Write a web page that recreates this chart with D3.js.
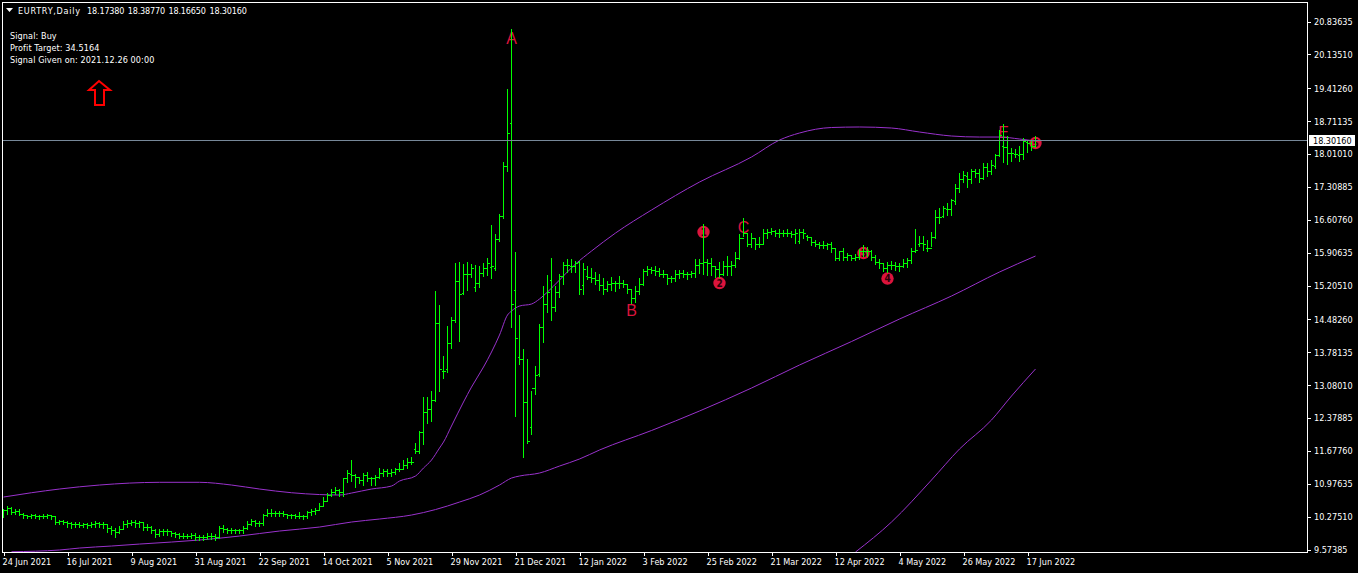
<!DOCTYPE html>
<html><head><meta charset="utf-8">
<script src="https://cdn.jsdelivr.net/npm/d3@7"></script>
<style>
html,body{margin:0;padding:0;background:#000;overflow:hidden}
svg{display:block}
text{font-family:"DejaVu Sans Condensed","DejaVu Sans",sans-serif;font-stretch:condensed;font-size:9px;fill:#fff}
</style></head><body>
<svg id="c" width="1358" height="573"></svg>
<script>
const symbolTitle="EURTRY,Daily";
const quoteValues=["18.17380","18.38770","18.16650","18.30160"];
const infoLines=["Signal: Buy","Profit Target: 34.5164","Signal Given on: 2021.12.26 00:00"];
const currentPrice=18.3016;
const priceTicks=[20.83635,20.1351,19.4126,18.71135,18.0101,17.30885,16.6076,15.90635,15.2051,14.4826,13.78135,13.0801,12.37885,11.6776,10.97635,10.2751,9.57385];
const dateLabels=["24 Jun 2021","16 Jul 2021","9 Aug 2021","31 Aug 2021","22 Sep 2021","14 Oct 2021","5 Nov 2021","29 Nov 2021","21 Dec 2021","12 Jan 2022","3 Feb 2022","25 Feb 2022","21 Mar 2022","12 Apr 2022","4 May 2022","26 May 2022","17 Jun 2022"];
const dateLabelBars=[0,16,32,48,64,80,96,112,128,144,160,176,192,208,224,240,256];

const highs=[
10.43,10.50,10.48,10.42,10.43,10.35,10.30,10.33,10.32,10.29,10.32,10.32,10.30,10.28,10.20,10.19,10.17,10.15,10.15,10.15,10.13,10.12,10.15,10.17,10.16,10.16,
10.08,10.06,10.03,10.06,10.18,10.19,10.20,10.19,10.18,10.16,10.11,10.06,10.00,9.99,10.01,10.00,9.96,9.94,9.91,9.91,9.89,9.91,9.92,9.88,9.88,9.91,9.91,9.89,
10.06,10.08,10.03,10.03,10.01,10.01,10.06,10.17,10.22,10.19,10.18,10.33,10.42,10.42,10.39,10.39,10.38,10.33,10.32,10.32,10.36,10.30,10.39,10.42,10.45,10.55,
10.68,10.76,10.86,10.90,10.85,11.09,11.26,
11.47,11.17,11.10,11.19,11.22,11.10,11.15,11.30,11.29,11.29,11.29,11.31,11.41,11.47,11.51,11.53,11.83,
12.10,12.82,12.81,12.94,15.08,14.78,13.69,14.33,14.52,15.68,15.69,15.65,15.69,15.65,15.63,15.61,15.67,15.78,16.48,16.29,16.73,17.82,19.39,20.66,
15.90,14.57,13.83,13.62,12.95,13.48,14.37,15.18,15.42,15.79,15.18,15.44,15.70,15.75,15.75,15.72,15.72,15.68,15.61,
15.56,15.49,15.44,15.35,15.30,15.38,15.30,15.40,15.31,15.23,15.13,15.18,15.35,15.54,15.60,15.58,15.60,15.56,15.52,15.44,15.40,15.52,15.52,15.52,15.49,15.51,15.77,15.75,16.50,15.77,15.79,15.61,15.70,15.72,15.82,15.72,15.91,16.29,16.63,16.32,16.32,16.20,16.22,16.41,16.39,16.43,16.38,16.39,16.38,16.39,16.36,16.41,16.39,
16.39,16.27,16.23,16.16,16.13,16.15,16.11,16.13,15.99,15.94,15.99,15.89,15.84,15.86,15.97,16.06,16.01,15.95,15.84,15.77,15.67,15.70,15.72,15.70,15.68,15.77,15.79,15.99,16.39,16.25,16.25,16.16,16.34,
16.81,16.84,16.89,16.95,17.03,17.36,17.59,17.64,17.62,17.67,17.67,17.69,17.80,17.80,17.87,18.01,18.51,18.64,18.38,18.12,18.10,18.17,18.35,18.28,18.28,18.3877];
const lows=[
10.28,10.35,10.35,10.35,10.32,10.26,10.25,10.25,10.25,10.23,10.25,10.25,10.23,10.13,10.13,10.12,10.06,10.05,10.06,10.06,10.06,10.05,10.06,10.06,10.06,10.05,
9.96,9.91,9.86,9.94,10.03,10.06,10.11,10.06,10.06,10.01,10.00,9.94,9.85,9.87,9.89,9.89,9.88,9.85,9.82,9.82,9.82,9.82,9.78,9.78,9.79,9.81,9.81,9.79,
9.82,9.96,9.94,9.94,9.94,9.94,9.94,10.03,10.11,10.09,10.09,10.11,10.29,10.30,10.30,10.30,10.29,10.25,10.25,10.25,10.25,10.23,10.25,10.33,10.35,10.42,
10.53,10.63,10.73,10.76,10.73,10.73,11.03,
11.04,10.92,11.01,10.97,11.04,10.97,10.97,11.12,11.15,11.15,11.15,11.20,11.26,11.31,11.33,11.40,11.65,
11.65,11.84,12.29,12.33,12.75,12.97,13.24,13.38,13.88,14.44,14.03,15.03,15.11,15.40,15.10,15.18,15.42,15.45,15.38,15.54,16.16,16.66,17.66,14.32,
12.43,13.55,11.56,11.86,12.04,12.91,13.29,14.00,14.64,14.49,14.67,14.96,15.24,15.51,15.51,15.51,15.03,15.03,15.35,
15.28,15.24,15.11,15.04,15.10,15.13,15.10,15.17,15.18,15.06,14.85,14.87,15.04,15.23,15.45,15.48,15.45,15.42,15.40,15.25,15.30,15.32,15.38,15.40,15.35,15.40,15.40,15.49,15.47,15.45,15.45,15.40,15.40,15.44,15.45,15.44,15.60,15.79,16.27,16.06,16.04,15.99,16.04,16.13,16.22,16.31,16.27,16.25,16.27,16.27,16.25,16.13,16.13,
16.22,16.18,16.09,16.06,16.01,16.02,15.99,15.94,15.77,15.75,15.75,15.77,15.75,15.75,15.79,15.84,15.84,15.77,15.68,15.58,15.52,15.51,15.56,15.54,15.52,15.60,15.60,15.70,15.92,16.06,15.97,15.95,16.06,
16.23,16.55,16.68,16.72,16.72,16.96,17.22,17.43,17.32,17.41,17.52,17.43,17.48,17.55,17.60,17.73,17.98,17.86,17.81,17.87,17.96,17.87,17.92,18.07,18.10,18.1665];
const opens=[
10.32,10.40,10.44,10.37,10.39,10.33,10.30,10.28,10.30,10.28,10.27,10.28,10.30,10.27,10.15,10.17,10.15,10.12,10.10,10.10,10.09,10.10,10.08,10.10,10.12,10.10,
10.11,10.03,9.97,9.93,10.00,10.10,10.12,10.15,10.12,10.14,10.05,10.05,9.98,9.90,9.95,9.95,9.96,9.91,9.89,9.86,9.86,9.85,9.87,9.82,9.84,9.84,9.85,9.86,
9.84,10.02,10.00,9.97,9.98,9.97,9.98,10.03,10.10,10.17,10.13,10.13,10.30,10.35,10.35,10.34,10.34,10.33,10.29,10.29,10.28,10.28,10.27,10.36,10.38,10.40,
10.50,10.60,10.72,10.80,10.84,10.80,11.08,
11.17,11.15,11.10,11.04,11.15,11.08,11.08,11.10,11.20,11.24,11.20,11.22,11.27,11.29,11.36,11.44,11.70,
11.67,12.08,12.50,12.55,12.75,14.39,13.38,13.41,13.96,14.46,15.28,15.04,15.43,15.45,15.17,15.24,15.47,15.56,15.58,15.56,16.18,16.68,17.74,18.65,
15.10,13.66,13.62,12.70,12.17,13.00,13.31,14.30,14.80,15.31,14.74,15.06,15.40,15.63,15.60,15.60,15.70,15.20,15.40,
15.38,15.35,15.32,15.20,15.13,15.23,15.24,15.24,15.25,15.22,15.11,14.92,15.08,15.23,15.51,15.54,15.52,15.51,15.45,15.44,15.35,15.35,15.45,15.47,15.45,15.44,15.47,15.63,15.67,15.70,15.67,15.60,15.54,15.45,15.61,15.60,15.63,15.79,16.20,16.32,16.09,16.20,16.09,16.09,16.32,16.34,16.36,16.32,16.32,16.31,16.31,16.29,16.15,
16.34,16.26,16.23,16.13,16.09,16.06,16.06,16.07,15.99,15.79,15.92,15.81,15.84,15.79,15.81,15.92,15.94,15.94,15.81,15.70,15.67,15.56,15.63,15.63,15.60,15.60,15.68,15.74,15.92,16.09,16.11,15.99,16.00,
16.23,16.66,16.68,16.82,16.82,17.00,17.27,17.46,17.53,17.46,17.64,17.60,17.48,17.72,17.64,17.74,17.98,18.17,18.14,18.03,17.99,17.98,18.01,18.25,18.23,18.1738];
const closes=[
10.40,10.44,10.37,10.39,10.33,10.30,10.28,10.30,10.28,10.27,10.28,10.30,10.27,10.15,10.17,10.15,10.12,10.10,10.10,10.09,10.10,10.08,10.10,10.12,10.10,10.11,
10.03,9.97,9.93,10.00,10.10,10.12,10.15,10.12,10.14,10.05,10.05,9.98,9.90,9.95,9.95,9.96,9.91,9.89,9.86,9.86,9.85,9.87,9.82,9.84,9.84,9.85,9.86,9.84,
10.02,10.00,9.97,9.98,9.97,9.98,10.03,10.10,10.17,10.13,10.13,10.30,10.35,10.35,10.34,10.34,10.33,10.29,10.29,10.28,10.28,10.27,10.36,10.38,10.40,10.50,
10.60,10.72,10.80,10.84,10.80,11.08,11.19,
11.15,11.10,11.04,11.15,11.08,11.08,11.10,11.20,11.24,11.20,11.22,11.27,11.29,11.36,11.44,11.44,11.67,
12.08,12.50,12.55,12.75,14.39,13.41,13.38,13.96,14.46,15.28,15.01,15.43,15.45,15.56,15.24,15.47,15.56,15.68,15.60,16.18,16.68,17.74,18.45,14.81,
14.07,13.62,12.70,11.88,13.00,13.29,14.30,14.80,15.06,14.73,15.06,15.40,15.63,15.63,15.60,15.67,15.13,15.54,15.38,
15.35,15.32,15.20,15.13,15.23,15.24,15.24,15.25,15.23,15.11,14.92,15.08,15.23,15.51,15.54,15.52,15.51,15.45,15.44,15.35,15.35,15.45,15.47,15.45,15.44,15.47,15.63,15.67,15.70,15.67,15.60,15.54,15.45,15.61,15.60,15.63,15.79,16.20,16.32,16.09,16.20,16.09,16.09,16.32,16.34,16.36,16.32,16.32,16.31,16.31,16.29,16.31,16.34,
16.31,16.23,16.13,16.09,16.06,16.06,16.07,15.99,15.79,15.92,15.81,15.84,15.79,15.81,15.92,15.94,15.94,15.81,15.70,15.67,15.56,15.63,15.63,15.60,15.60,15.68,15.74,15.92,15.95,16.11,16.09,15.99,16.23,
16.66,16.66,16.84,16.82,17.02,17.27,17.46,17.55,17.46,17.64,17.60,17.48,17.72,17.64,17.77,17.98,18.40,18.14,18.03,18.03,17.99,18.01,18.28,18.23,18.16,18.3016];

const upperBars=[0,7,14,24,39,49,57,64,72,79,84,87,92,97,99,103,105,107,109,110,112,115,117,120,122,124,126,127,129,132,134,136,139,143,147,153,162,174,187,194,199,207,214,222,229,237,244,249,254,258];
const upperVals=[10.693,10.785,10.864,10.949,11.007,11.007,10.949,10.864,10.785,10.746,10.736,10.778,10.864,10.928,11.034,11.141,11.312,11.482,11.738,11.866,12.208,12.72,13.039,13.466,13.786,14.149,14.575,14.661,14.767,14.81,14.917,15.066,15.322,15.663,15.94,16.324,16.815,17.412,17.946,18.308,18.458,18.575,18.586,18.564,18.479,18.394,18.372,18.372,18.33,18.287];
const middleBars=[2,14,19,27,34,42,49,59,69,79,87,94,102,108,114,119,124,127,129,134,139,144,149,162,174,187,199,212,224,237,249,258];
const middleVals=[9.526,9.563,9.605,9.648,9.69,9.733,9.776,9.861,9.968,10.053,10.16,10.224,10.309,10.426,10.586,10.736,10.949,11.098,11.141,11.205,11.354,11.504,11.696,12.112,12.528,13.018,13.509,14.01,14.49,14.981,15.493,15.834];
const lowerBars=[213,222,232,239,247,252,258];
const lowerVals=[9.52,10.16,11.056,11.717,12.336,12.848,13.424];

const waveLetters=["A","B","C","E"];
const waveLetterBars=[127,157,185,250];
const waveLetterPrices=[20.356,14.554,16.325,18.351];
const waveNumbers=["1","2","3","4","5"];
const waveNumberBars=[175,179,215,221,258];
const waveNumberPrices=[16.346,15.258,15.898,15.354,18.244];

const W=1358,H=573,L=2,R=1307,T=2,B=552;
const svg=d3.select("#c");
const x=d3.scaleLinear().domain([0,258]).range([3.5,1035.5]);
const y=d3.scaleLinear().domain([priceTicks[priceTicks.length-1],priceTicks[0]]).range([549.5,21.5]);
const px=v=>Math.floor(v)+0.5;

svg.append("rect").attr("width",W).attr("height",H).attr("fill","#000");
svg.append("defs").append("clipPath").attr("id","plot").append("rect")
  .attr("x",L).attr("y",T).attr("width",R-L).attr("height",B-T);
const plot=svg.append("g").attr("clip-path","url(#plot)");

// wave labels sit underneath the bars
const cr="#dc143c";
plot.selectAll("text.w").data(waveLetters).join("text").attr("class","w")
  .attr("x",(d,i)=>x(waveLetterBars[i])).attr("y",(d,i)=>y(waveLetterPrices[i]))
  .attr("text-anchor","middle")
  .style("font-family","'Liberation Sans',sans-serif").style("font-size","16px").style("fill",cr).text(d=>d);
const nums=plot.selectAll("g.n").data(waveNumbers).join("g").attr("class","n")
  .attr("transform",(d,i)=>`translate(${x(waveNumberBars[i])},${y(waveNumberPrices[i])})`);
nums.append("circle").attr("r",6.2).attr("fill",cr);
nums.append("text").attr("text-anchor","middle").attr("dy","3.5px")
  .style("font-size","10px").style("font-weight","bold").style("fill","#2a0008").text(d=>d);

// bands
const band=(bars,vals)=>d3.line().curve(d3.curveMonotoneX).x(i=>x(bars[i])).y(i=>y(vals[i]))(d3.range(bars.length));
[[upperBars,upperVals],[middleBars,middleVals],[lowerBars,lowerVals]].forEach(([b,v])=>{
  plot.append("path").attr("d",band(b,v)).attr("fill","none").attr("stroke","#9932cc").attr("stroke-width",1);
});

// current price line
svg.append("line").attr("x1",L).attr("x2",R).attr("y1",px(y(currentPrice))).attr("y2",px(y(currentPrice)))
  .attr("stroke","#778899").attr("stroke-width",1);

// OHLC bars
const green="#00ff00";
const bars=plot.append("g").attr("stroke",green).attr("stroke-width",1).attr("shape-rendering","crispEdges");
bars.selectAll("line.hl").data(highs).join("line").attr("class","hl")
  .attr("x1",(d,i)=>x(i)).attr("x2",(d,i)=>x(i))
  .attr("y1",d=>Math.floor(y(d))).attr("y2",(d,i)=>Math.ceil(y(lows[i]))+1);
bars.selectAll("line.o").data(opens).join("line").attr("class","o")
  .attr("x1",(d,i)=>x(i)-1.5).attr("x2",(d,i)=>x(i))
  .attr("y1",d=>px(y(d))).attr("y2",d=>px(y(d)));
bars.selectAll("line.c").data(closes).join("line").attr("class","c")
  .attr("x1",(d,i)=>x(i)).attr("x2",(d,i)=>x(i)+2)
  .attr("y1",d=>px(y(d))).attr("y2",d=>px(y(d)));

// frame
svg.append("path").attr("d",`M${L+.5},${B+.5}V${T+.5}H${R+.5}V${B+.5}H${L+.5}`)
  .attr("fill","none").attr("stroke","#fff").attr("stroke-width",1).attr("shape-rendering","crispEdges");

// price axis
const ya=svg.append("g").attr("transform",`translate(${R+1},0)`)
  .call(d3.axisRight(y).tickValues(priceTicks).tickSize(3).tickPadding(3).tickFormat(d3.format(".5f")));
ya.select(".domain").remove();
ya.selectAll("line").attr("stroke","#fff").attr("shape-rendering","crispEdges");
ya.selectAll("text").attr("fill","#fff");
// price tag
const tagY=y(currentPrice);
svg.append("rect").attr("x",1309).attr("y",Math.round(tagY)-5).attr("width",46).attr("height",11).attr("fill","#fff");
svg.append("text").attr("x",1313).attr("y",Math.round(tagY)+3.5).style("fill","#000").text(d3.format(".5f")(currentPrice));

// date axis
const xa=svg.append("g").attr("transform",`translate(0,${B+1})`)
  .call(d3.axisBottom(x).tickValues(dateLabelBars).tickSize(3).tickPadding(3).tickFormat((d,i)=>dateLabels[i]));
xa.select(".domain").remove();
xa.selectAll("line").attr("stroke","#fff").attr("shape-rendering","crispEdges");
xa.selectAll("text").attr("text-anchor","start").attr("dx","-1.5").attr("fill","#fff");

// header
svg.append("path").attr("d","M6,8H13L9.5,12Z").attr("fill","#fff");
svg.append("text").attr("x",18).attr("y",13.5).attr("textLength",62).attr("lengthAdjust","spacing").text(symbolTitle);
const quoteOffsets=[87,127.7,168.4,209.4];
svg.selectAll("text.q").data(quoteValues).join("text").attr("class","q")
  .attr("x",(d,i)=>quoteOffsets[i]).attr("y",13.5).attr("textLength",37.5).attr("lengthAdjust","spacing").text(d=>d);
svg.selectAll("text.info").data(infoLines).join("text").attr("class","info")
  .attr("x",10).attr("y",(d,i)=>38.5+12*i).style("letter-spacing","0.1px").text(d=>d);

// signal arrow
svg.append("path").attr("d","M99,81L110,90H104V105H95V90H89Z")
  .attr("fill","none").attr("stroke","#f00").attr("stroke-width",2);
</script>
</body></html>
